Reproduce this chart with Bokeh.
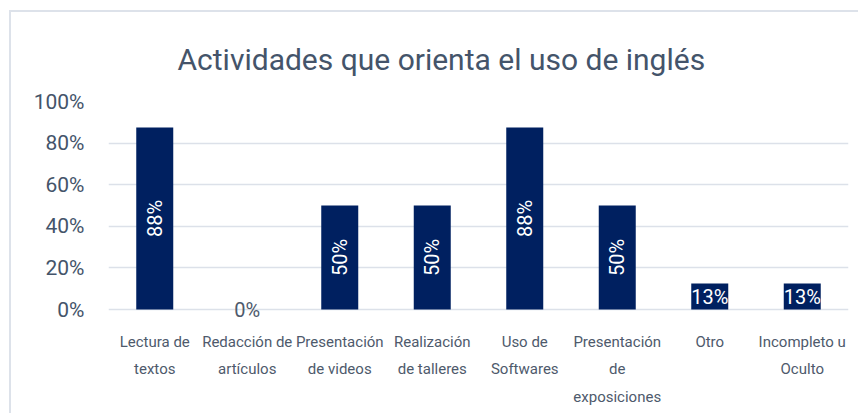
import math
from bokeh.plotting import figure
from bokeh.models import ColumnDataSource, FactorRange, Range1d, FixedTicker, NumeralTickFormatter
from bokeh.core.properties import value
from bokeh.embed import file_html
from bokeh.resources import INLINE

# ---- data ----
categories = [
    "Lectura de\ntextos",
    "Redacción de\nartículos",
    "Presentación\nde videos",
    "Realización\nde talleres",
    "Uso de\nSoftwares",
    "Presentación\nde\nexposiciones",
    "Otro",
    "Incompleto u\nOculto",
]
values = [0.875, 0.0, 0.5, 0.5, 0.875, 0.5, 0.125, 0.125]
y_ticks = [0, 0.2, 0.4, 0.6, 0.8, 1.0]
title_text = "Actividades que orienta el uso de inglés"

BAR = "#002060"
TXT = "#44546A"
GRID = "#DCE1E9"
FONT = "Roboto"

labels = [f"{int(v * 100 + 0.5)}%" for v in values]
mids = [v / 2 for v in values]
angles = [math.pi / 2 if v >= 0.3 else 0 for v in values]
colors = ["white" if v > 0 else "#4E5A6C" for v in values]

src = ColumnDataSource(dict(cat=categories, val=values, mid=mids, label=labels,
                            angle=angles, color=colors))

p = figure(width=849, height=403, x_range=FactorRange(*categories),
           y_range=Range1d(-0.0625, 1), output_backend="svg", toolbar_location=None,
           min_border_left=97, min_border_right=12, min_border_bottom=93,
           min_border_top=89, margin=(10, 0, 0, 9))

p.styles = {"border-top": "2px solid #DDE2EA", "border-left": "2px solid #DDE2EA"}

p.title.text = title_text
p.title.text_font = FONT
p.title.text_font_size = "30px"
p.title.text_font_style = "normal"
p.title.text_color = TXT
p.title.align = "left"
p.title.offset = 69
p.title.standoff = 49

p.vbar(x="cat", top="val", width=0.4, source=src, fill_color=BAR, line_color=None)
p.text(x="cat", y="mid", text="label", angle="angle", text_color="color", source=src,
       text_align="center", text_baseline="middle", text_font=value(FONT),
       text_font_size="20px")

p.outline_line_color = None
p.xgrid.grid_line_color = None
p.ygrid.grid_line_color = GRID
p.ygrid.grid_line_width = 1.5

p.yaxis.ticker = FixedTicker(ticks=y_ticks)
p.yaxis.formatter = NumeralTickFormatter(format="0%")
p.yaxis.axis_line_color = None
p.yaxis.major_tick_line_color = None
p.yaxis.minor_tick_line_color = None
p.yaxis.major_label_text_font = FONT
p.yaxis.major_label_text_font_size = "21px"
p.yaxis.major_label_text_color = TXT
p.yaxis.major_label_standoff = 18

p.xaxis.axis_line_color = None
p.xaxis.major_tick_line_color = None
p.xaxis.major_label_text_font = FONT
p.xaxis.major_label_text_font_size = "15px"
p.xaxis.major_label_text_color = "#4E5A6C"
p.xaxis.major_label_text_line_height = 1.54
p.xaxis.major_label_standoff = 4

open("out.html", "w").write(file_html(p, INLINE))
